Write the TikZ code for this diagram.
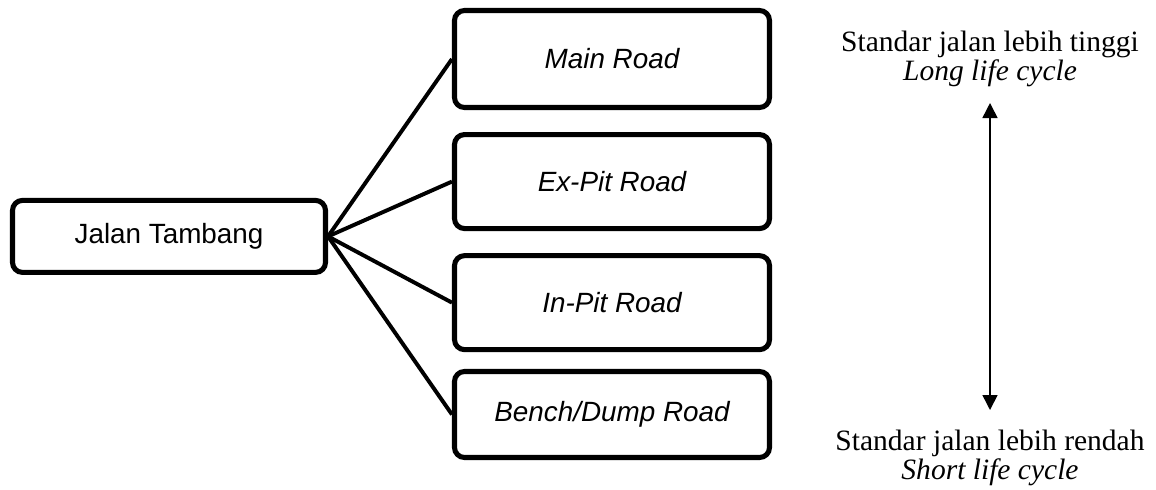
\documentclass[tikz,border=0pt]{standalone}
\usepackage{fontspec}
\setmainfont{Liberation Serif}
\newfontfamily\arialfont{Liberation Sans}
\usepackage{tikz}
\usetikzlibrary{arrows.meta, positioning}

\begin{document}
\begin{tikzpicture}[
        node distance=0.55cm,
        road/.style={rectangle, draw, line width=3.6pt, rounded corners=0.25cm, minimum width=7.875cm, font=\arialfont\fontsize{19.8}{24}\selectfont\itshape},
        link/.style={line width=2.8pt},
        arrow/.style={{Triangle[length=0.375cm, width=0.375cm]}-{Triangle[length=0.375cm, width=0.375cm]}, line width=1.1pt},
        note/.style={anchor=base, inner sep=0pt, font=\fontsize{21}{25}\selectfont}
    ]
    \useasboundingbox (0,0) rectangle (28.9,-12.225);

    % Root
    \node (Jalan) [road, minimum width=7.825cm, minimum height=1.8cm, font=\arialfont\fontsize{19.8}{24}\selectfont] at (4.225,-5.91) {Jalan Tambang};

    % Road types
    \node (Main) [road, minimum height=2.425cm] at (15.3,-1.475) {Main Road};
    \node (ExPit) [road, minimum height=2.35cm, below=of Main] {Ex-Pit Road};
    \node (InPit) [road, minimum height=2.35cm, below=of ExPit] {In-Pit Road};
    \node (Bench) [road, minimum height=2.15cm, below=0.42cm of InPit] {Bench/Dump Road};

    \draw[link] (Jalan.east) -- (Main.west);
    \draw[link] (Jalan.east) -- (ExPit.west);
    \draw[link] (Jalan.east) -- (InPit.west);
    \draw[link] (Jalan.east) -- (Bench.west);

    % Standard scale
    \node (High) [note] at (24.75,-1.28) {Standar jalan lebih tinggi};
    \node (HighCycle) [note] at (24.75,-2.0) {\textit{Long life cycle}};
    \node (Low) [note] at (24.75,-11.25) {Standar jalan lebih rendah};
    \node (LowCycle) [note] at (24.75,-11.975) {\textit{Short life cycle}};
    \coordinate (Top) at (24.75,-2.575);
    \coordinate (Bottom) at (24.75,-10.25);
    \draw[arrow] (Bottom) -- (Top);

\end{tikzpicture}
\end{document}
